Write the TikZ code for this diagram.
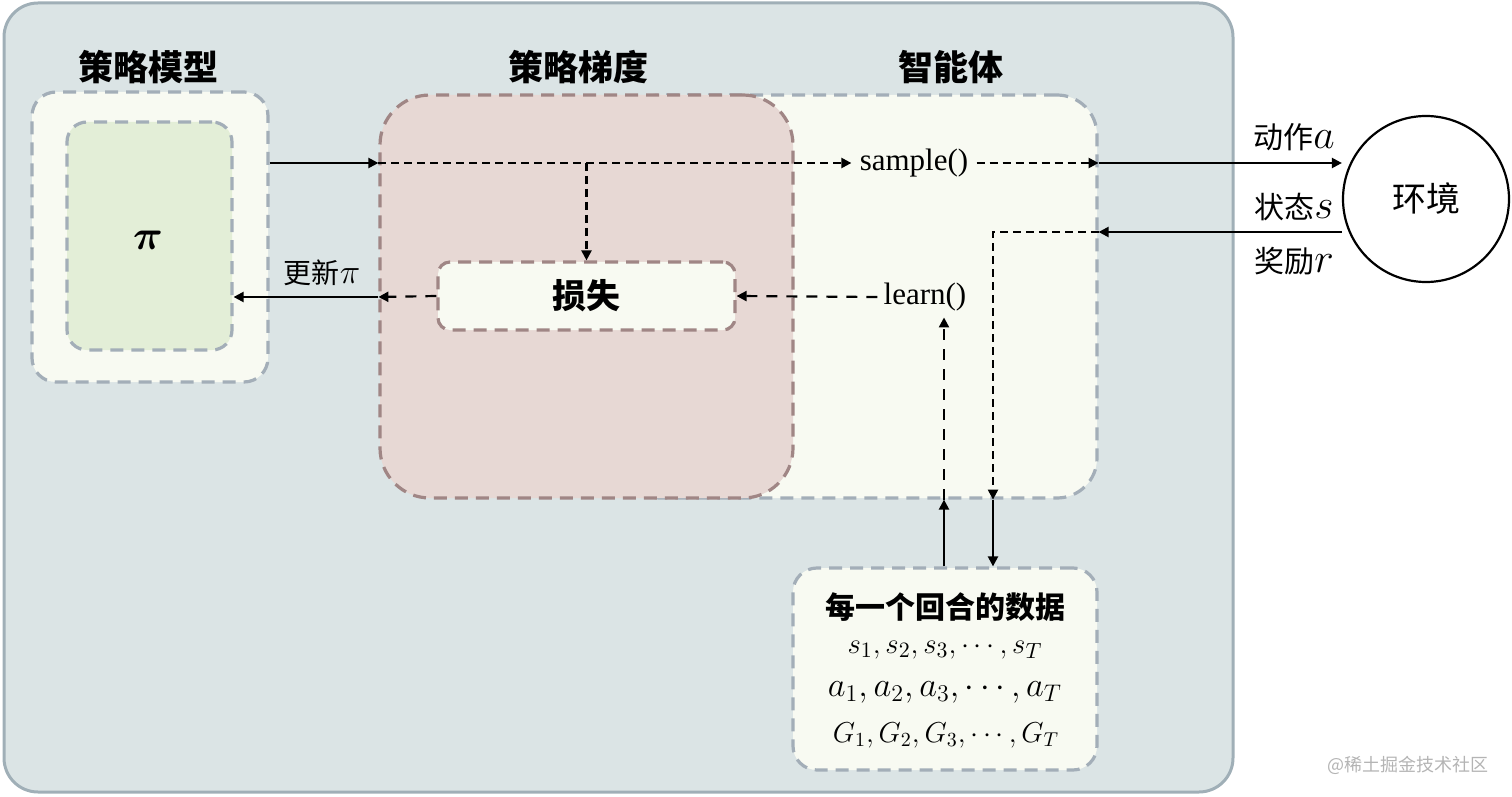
\documentclass[tikz,border=0pt]{standalone}
\usepackage{fontspec}
\usepackage{bm}
\setmainfont{Liberation Serif}
\newfontfamily\cjk{Noto Sans CJK SC}
\usetikzlibrary{arrows.meta,calc}
\definecolor{outerfill}{HTML}{DBE4E5}
\definecolor{outerline}{HTML}{A0AFB7}
\definecolor{grayline}{HTML}{A3AEB8}
\definecolor{palefill}{HTML}{F8FAF2}
\definecolor{greenfill}{HTML}{E3EED7}
\definecolor{pinkfill}{HTML}{E7D8D4}
\definecolor{pinkline}{HTML}{A08685}
\definecolor{wmgray}{HTML}{B4B4B4}
\newcommand{\lblmath}[1]{{\fontsize{21pt}{21pt}\selectfont$#1$}}
\begin{document}
\begin{tikzpicture}[x=0.5pt,y=-0.5pt,
  box/.style={rounded corners=#1, line width=1.6pt, dash pattern=on 6.5pt off 4pt, inner sep=0pt},
  tip/.style={-{Triangle[length=5pt,width=5pt]}},
  sol/.style={tip, line width=1.1pt},
  dsh/.style={tip, line width=1.1pt, dash pattern=on 4pt off 2.5pt},
  dshl/.style={tip, line width=1.1pt, dash pattern=on 5.5pt off 4.5pt},
  title/.style={font=\cjk\bfseries\fontsize{17.5pt}{20pt}\selectfont, inner sep=0pt},
  lab/.style={font=\cjk\fontsize{15pt}{18pt}\selectfont, inner sep=0pt},
  fn/.style={font=\fontsize{15.5pt}{18pt}\selectfont}
]
\useasboundingbox (0,0) rectangle (1512,797);
% outer container
\node[draw=outerline, fill=outerfill, line width=1.5pt, rounded corners=17pt,
      minimum width=614.5pt, minimum height=394.5pt, inner sep=0pt] (outer) at (618.5,397.5) {};
% policy model
\node[box=12pt, draw=grayline, fill=palefill, minimum width=118pt, minimum height=145pt] (model) at (150,237) {};
\node[box=10pt, draw=grayline, fill=greenfill, minimum width=82.5pt, minimum height=114pt] (pi) at (149.5,236) {};
\node[font=\fontsize{22pt}{26pt}\selectfont, inner sep=0pt] (pitext) at (148,240) {$\bm{\pi}$};
% agent (behind gradient box)
\node[box=20pt, draw=grayline, fill=palefill, minimum width=238.5pt, minimum height=201.5pt] (agent) at (858.5,296.5) {};
% policy gradient
\node[box=25pt, draw=pinkline, fill=pinkfill, minimum width=206.5pt, minimum height=201.5pt] (grad) at (586.5,296.5) {};
\node[box=6pt, draw=pinkline, fill=palefill, minimum width=148.5pt, minimum height=34pt,
      font=\cjk\bfseries\fontsize{17pt}{20pt}\selectfont] (loss) at (586.5,296) {损失};
% episode data
\node[box=12pt, draw=grayline, fill=palefill, minimum width=152pt, minimum height=101pt] (data) at (945,669) {};
\node[font=\cjk\bfseries\fontsize{15pt}{18pt}\selectfont, inner sep=0pt] (dtitle) at (945,607) {每一个回合的数据};
\node[font=\fontsize{15pt}{18pt}\selectfont, inner sep=0pt] (sline) at (945,650) {$s_1, s_2, s_3, \cdots, s_T$};
\node[font=\fontsize{17.5pt}{20pt}\selectfont, inner sep=0pt] (aline) at (945,692) {$a_1, a_2, a_3, \cdots, a_T$};
\node[font=\fontsize{14.5pt}{18pt}\selectfont, inner sep=0pt] (gline) at (946,735) {$G_1, G_2, G_3, \cdots, G_T$};
% environment
\node[circle, draw=black, line width=1.1pt, minimum size=83pt, inner sep=0pt,
      font=\cjk\fontsize{17pt}{20pt}\selectfont] (env) at (1426,199) {环境};
% titles
\node[title] (tmodel) at (148,67) {策略模型};
\node[title] (tgrad) at (578,67) {策略梯度};
\node[title] (tagent) at (951,67) {智能体};
% function labels
\node[fn, inner sep=4pt] (sample) at (914,163) {sample()};
\node[fn, inner sep=3pt] (learn) at (925,297) {learn()};
% side labels
\node[lab] (act) at (1294,137) {动作\lblmath{a}};
\node[lab] (state) at (1294,207) {状态\lblmath{s}};
\node[lab] (reward) at (1294,261) {奖励\lblmath{r}};
\node[lab, font=\cjk\fontsize{14pt}{17pt}\selectfont] (upd) at (322,273) {更新{\fontsize{19pt}{19pt}\selectfont$\pi$}};
% watermark
\node[font=\cjk\fontsize{9pt}{11pt}\selectfont, text=wmgray, inner sep=0pt] (wm) at (1408,765) {@稀土掘金技术社区};
% helper coordinates
\coordinate (ys) at (0,163);
\coordinate (yr) at (0,232);
\coordinate (yl) at (0,297);
\coordinate (xr) at (993,0);
\coordinate (xl) at (944,0);
% connectors
\draw[sol] (model.east |- ys) -- (grad.west |- ys);
\draw[dsh] (grad.west |- ys) -- (sample.west);
\draw[dsh] (sample.east) -- (agent.east |- ys);
\draw[sol] (agent.east |- ys) -- (env.west |- ys);
\draw[dsh] (loss.north |- ys) -- (loss.north);
\draw[sol] (env.west |- yr) -- (agent.east |- yr);
\draw[dsh] (agent.east |- yr) -| (xr |- agent.south);
\draw[sol] (xr |- agent.south) -- (xr |- data.north);
\draw[sol] (xl |- data.north) -- (xl |- agent.south);
\draw[dshl] (xl |- agent.south) -- (xl |- learn.south);
\draw[dshl] (learn.west) -- (loss.east);
\draw[dshl] (loss.west) -- (grad.west |- yl);
\draw[sol] (grad.west |- yl) -- (pi.east |- yl);
\end{tikzpicture}
\end{document}
